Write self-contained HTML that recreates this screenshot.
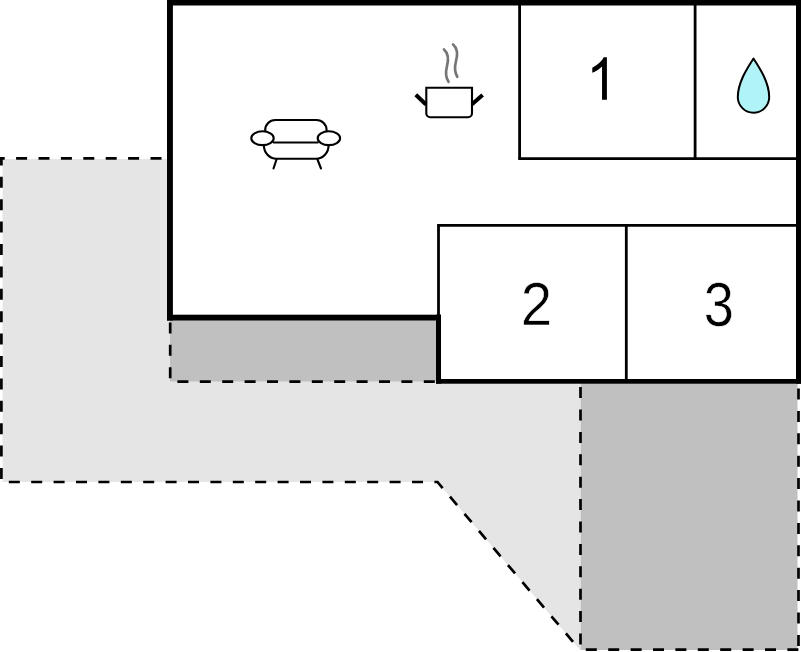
<!DOCTYPE html>
<html>
<head>
<meta charset="utf-8">
<style>
html,body{margin:0;padding:0;background:#fff;}
body{width:801px;height:652px;overflow:hidden;font-family:"Liberation Sans",sans-serif;}
svg{display:block;}
</style>
</head>
<body>
<svg width="801" height="652" viewBox="0 0 801 652">
  <!-- light gray outdoor area -->
  <polygon points="2.6,159 168,159 168,320 437,320 437,383 580,383 580,650 437.5,482 2.6,482" fill="#e5e5e5"/>
  <!-- dark gray strip under main room -->
  <rect x="170" y="320" width="267" height="61.5" fill="#c0c0c0"/>
  <!-- dark gray right area -->
  <rect x="580.5" y="383" width="217" height="267" fill="#c0c0c0"/>

  <!-- dashed lines -->
  <g fill="none" stroke="#000" stroke-width="2.7" stroke-dasharray="11 11.4">
    <line x1="0" y1="158.4" x2="167" y2="158.4" stroke-dashoffset="6.3"/>
    <line x1="1.4" y1="157" x2="1.4" y2="482" stroke-dashoffset="2.6"/>
    <polyline points="0,482 437.5,482 580,650" stroke-dashoffset="13.6"/>
    <line x1="580.5" y1="383" x2="580.5" y2="650" stroke-dashoffset="18.3"/>
    <line x1="580" y1="649.7" x2="801" y2="649.7" stroke-dashoffset="16.6"/>
    <line x1="798.5" y1="383" x2="798.5" y2="650" stroke-dashoffset="16.9"/>
    <line x1="170.2" y1="320" x2="170.2" y2="381.7" stroke-dashoffset="20"/>
    <line x1="170" y1="381.7" x2="437" y2="381.7" stroke-dashoffset="15"/>
  </g>

  <!-- main room interior -->
  <polygon points="173,5.5 796,5.5 796,379 441,379 441,315 173,315" fill="#fff"/>

  <!-- thin room lines -->
  <g fill="none" stroke="#000" stroke-width="2.8">
    <line x1="519.6" y1="4" x2="519.6" y2="158.6"/>
    <line x1="518.2" y1="158.6" x2="797" y2="158.6"/>
    <line x1="695.1" y1="4" x2="695.1" y2="158.6"/>
    <line x1="437.1" y1="225.45" x2="797" y2="225.45"/>
    <line x1="438.5" y1="225.45" x2="438.5" y2="316"/>
    <line x1="626.3" y1="225.45" x2="626.3" y2="381"/>
  </g>

  <!-- thick walls -->
  <g fill="#000">
    <rect x="167" y="0" width="634" height="5.5"/>
    <rect x="167" y="0" width="5.9" height="320.5"/>
    <rect x="167" y="314.7" width="274" height="5.8"/>
    <rect x="436" y="314.7" width="5" height="69"/>
    <rect x="436" y="379" width="365" height="4.7"/>
    <rect x="796" y="0" width="5" height="383.7"/>
  </g>

  <!-- numbers -->
  <path d="M606.9,99.7 L602.04,99.7 L602.04,66.59 Q600.29,68.38 597.43,70.17 Q594.57,71.96 592.3,72.85 L592.3,67.83 Q596.38,65.78 599.43,62.86 Q602.48,59.95 603.74,57.2 L606.9,57.2 Z" fill="#000"/>
  <g font-family="Liberation Sans, sans-serif" fill="#000" stroke="#fff" stroke-width="0.6">
    <text transform="translate(520.86,325.4) scale(0.91,1)" font-size="62">2</text>
    <text transform="translate(703.84,325.6) scale(0.866,1)" font-size="62.6">3</text>
  </g>

  <!-- water drop -->
  <path d="M753.5,58.5 C748,67 737.8,82 737.8,97 A15.7,15.7 0 0 0 769.2,97 C769.2,82 759,67 753.5,58.5 Z" fill="#b0f4f8" stroke="#000" stroke-width="2" stroke-linejoin="round"/>

  <!-- sofa -->
  <g fill="none" stroke="#000" stroke-width="2.1" stroke-linecap="round">
    <path d="M265.2,131 L265.2,130 A10,10 0 0 1 275.2,120 L316.6,120 A10,10 0 0 1 326.6,130 L326.6,131"/>
    <ellipse cx="262.5" cy="138.2" rx="11.2" ry="6.9"/>
    <ellipse cx="328.9" cy="138.2" rx="11.2" ry="6.9"/>
    <line x1="273.7" y1="142.5" x2="317.7" y2="142.5"/>
    <path d="M264,145.2 A12.5,13 0 0 0 276.5,158.7 L316,158.7 A12.5,13 0 0 0 328.5,145.2"/>
    <line x1="276.5" y1="159.5" x2="273.5" y2="168.5"/>
    <line x1="317.5" y1="159.5" x2="321" y2="168.5"/>
  </g>

  <!-- pot -->
  <g fill="none" stroke="#000">
    <path d="M426.3,87.8 L472,87.8 L472,113.2 A4,4 0 0 1 468,117.2 L430.3,117.2 A4,4 0 0 1 426.3,113.2 Z" stroke-width="2.1"/>
    <line x1="415.8" y1="94.8" x2="426" y2="104.5" stroke-width="4"/>
    <line x1="472" y1="104.3" x2="482.6" y2="95" stroke-width="4"/>
  </g>
  <g fill="none" stroke="#767676" stroke-width="2.7" stroke-linecap="round">
    <path d="M444,49.5 C448.6,53.5 448.5,60 447,66 C445.5,72 446,78 448.5,81.8"/>
    <path d="M453.1,44.5 C457.7,48.5 457.7,55 456,61 C454.5,67 455,73 457.3,76.8"/>
  </g>
</svg>
</body>
</html>
